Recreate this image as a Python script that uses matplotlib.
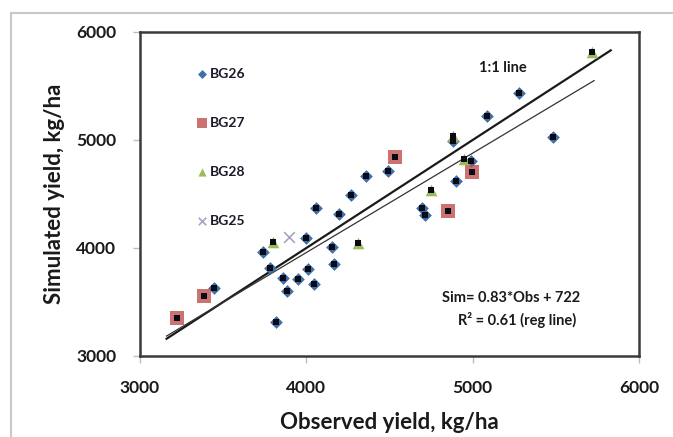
import matplotlib
matplotlib.use("Agg")
import matplotlib.pyplot as plt
from matplotlib.patches import Rectangle
import numpy as np

plt.rcParams['font.family'] = ['Lato', 'DejaVu Sans']

# Data (observed, simulated), kg/ha
bg26_obs = [3445, 3818, 3782, 3740, 3998, 4058, 3860, 3884, 3950, 4010, 4046, 4491, 4359, 4269,
            4197, 4155, 4167, 4900, 4696, 4714, 5279, 5087, 5483, 4990, 4882]
bg26_sim = [3630, 3315, 3815, 3963, 4093, 4370, 3722, 3602, 3713, 3806, 3667, 4713, 4667, 4491,
            4315, 4009, 3852, 4620, 4370, 4306, 5435, 5222, 5028, 4810, 4990]
bg27_obs = [3222, 3385, 4533, 4996, 4852]
bg27_sim = [3352, 3556, 4843, 4704, 4343]
bg28_obs = [3800, 4311, 4882, 4950, 4750, 5718]
bg28_sim = [4056, 4046, 5040, 4820, 4537, 5815]
bg25_obs = [3896]
bg25_sim = [4102]

one_x = [3160, 5830]
one_y = [3160, 5830]
reg_x = [3160, 5730]
reg_y = [3185, 5550]

xticks = [3000, 4000, 5000, 6000]
yticks = [3000, 4000, 5000, 6000]

fig = plt.figure(figsize=(6.73, 4.37), dpi=100)
fig.patches.append(Rectangle((11/673, -0.01), 1.0, (437-13)/437 + 0.01, transform=fig.transFigure,
                             fill=False, edgecolor='#c8c8c8', linewidth=1.5, zorder=0))
ax = fig.add_axes([140/673, (437-356)/437, (639-140)/673, (356-32)/437])

ax.plot(one_x, one_y, color='#1a1a1a', lw=1.6, zorder=2)
ax.plot(reg_x, reg_y, color='#333333', lw=0.9, zorder=2)

ax.scatter(bg26_obs, bg26_sim, marker='D', s=42, color='#3f6fa8', label='BG26', zorder=3, linewidths=0)
ax.scatter(bg27_obs, bg27_sim, marker='s', s=110, color='#C0504D', label='BG27', zorder=3, linewidths=0, alpha=0.8)
ax.scatter(bg28_obs, bg28_sim, marker='^', s=70, color='#9BBB59', label='BG28', zorder=3, linewidths=0)
ax.scatter(bg25_obs, bg25_sim, marker='x', s=60, color='#a8a4c4', label='BG25', zorder=3, linewidths=1.2)

all_obs = bg26_obs + bg27_obs + bg28_obs
all_sim = bg26_sim + bg27_sim + bg28_sim
ax.scatter(all_obs, all_sim, marker='s', s=16, color='#0a0a14', zorder=4, linewidths=0)

ax.set_xlim(3000, 6000)
ax.set_ylim(3000, 6000)
ax.set_xticks(xticks)
ax.set_yticks(yticks)
ax.tick_params(axis='both', direction='out', length=5, width=1, color='#bdbdbd',
               labelsize=12.5, labelcolor='#1a1a1a')
ax.tick_params(axis='x', pad=12)
ax.tick_params(axis='y', pad=12)
for lab in ax.get_xticklabels() + ax.get_yticklabels():
    lab.set_fontweight('bold')
for sp in ax.spines.values():
    sp.set_color('#3a3a3a')
    sp.set_linewidth(1.8)

ax.set_xlabel('Observed yield, kg/ha', fontsize=16, fontweight='bold', color='#1a1a1a', labelpad=12)
ax.set_ylabel('Simulated yield, kg/ha', fontsize=16, fontweight='bold', color='#1a1a1a', labelpad=8)

ax.text(5183, 5667, '1:1 line', fontsize=10.5, fontweight='bold', ha='center', va='center', color='#1a1a1a')
ax.text(5230, 3540, 'Sim= 0.83*Obs + 722', fontsize=10.5, fontweight='bold', ha='center', va='center', color='#1a1a1a')
ax.text(5270, 3330, 'R² = 0.61 (reg line)', fontsize=10.5, fontweight='bold', ha='center', va='center', color='#1a1a1a')

leg = ax.legend(loc='upper left', bbox_to_anchor=(0.085, 0.928), frameon=False,
                labelspacing=2.66, handletextpad=0.1, handlelength=1.0, markerscale=0.7,
                prop={'weight': 'bold', 'size': 10})
for t in leg.get_texts():
    t.set_color('#1a1a2a')

fig.savefig('out.png', dpi=100)
